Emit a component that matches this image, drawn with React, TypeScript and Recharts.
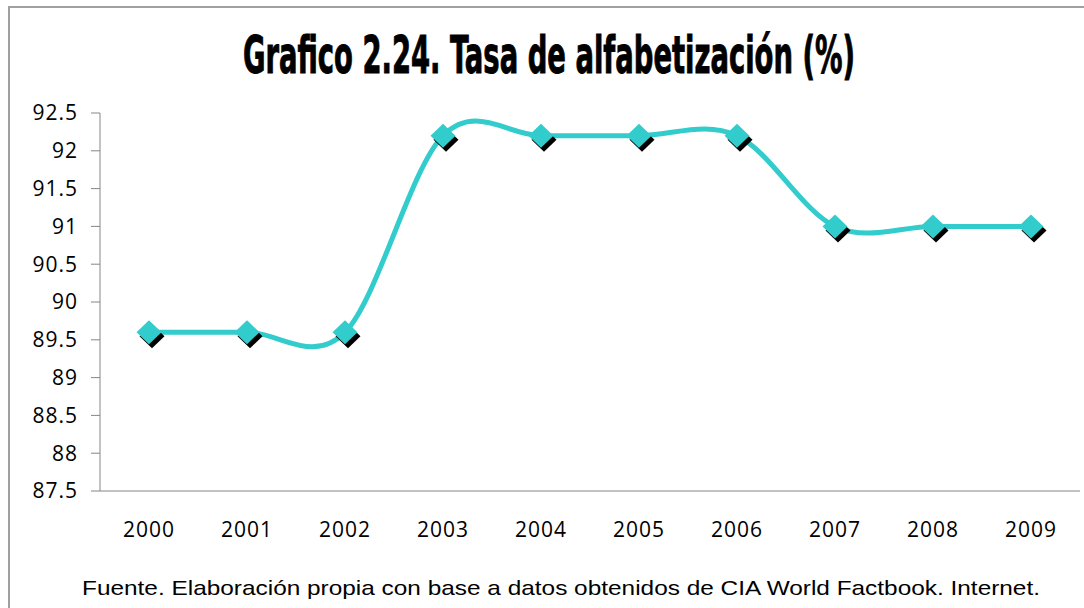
import React from "react";
import { LineChart, Line, XAxis, YAxis } from "recharts";

const years = ["2000", "2001", "2002", "2003", "2004", "2005", "2006", "2007", "2008", "2009"];
const literacy = [89.6, 89.6, 89.6, 92.2, 92.2, 92.2, 92.2, 91.0, 91.0, 91.0];
const yTicks = [87.5, 88, 88.5, 89, 89.5, 90, 90.5, 91, 91.5, 92, 92.5];
const title = "Grafico 2.24. Tasa de alfabetización (%)";
const footer = "Fuente. Elaboración propia con base a datos obtenidos de CIA World Factbook. Internet.";

const data = years.map((y, i) => ({ i, year: y, v: literacy[i] }));
const labelTicks = years.map((_, i) => i);
const boundaryTicks = [...years.map((_, i) => i - 0.5), years.length - 0.5];

const TEAL = "#33CCCC";
const AXIS = "#868686";

// Excel-like smoothed line (cardinal spline, tension 1/6 control points)
const excelCurve: any = (context: any) => {
  let pts: number[][] = [];
  return {
    areaStart() {},
    areaEnd() {},
    lineStart() {
      pts = [];
    },
    lineEnd() {
      const n = pts.length;
      if (!n) return;
      context.moveTo(pts[0][0], pts[0][1]);
      for (let k = 0; k < n - 1; k++) {
        const p0 = pts[Math.max(k - 1, 0)];
        const p1 = pts[k];
        const p2 = pts[k + 1];
        const p3 = pts[Math.min(k + 2, n - 1)];
        const c1x = p1[0] + (p2[0] - p0[0]) / 6;
        const c1y = p1[1] + (p2[1] - p0[1]) / 6;
        const c2x = p2[0] - (p3[0] - p1[0]) / 6;
        const c2y = p2[1] - (p3[1] - p1[1]) / 6;
        context.bezierCurveTo(c1x, c1y, c2x, c2y, p2[0], p2[1]);
      }
    },
    point(x: number, y: number) {
      pts.push([+x, +y]);
    },
  };
};

const DiamondDot = (props: any) => {
  const { cx, cy, index } = props;
  if (cx == null || cy == null) return <g key={index} />;
  const hw = 12.5;
  const hh = 12;
  const d = (x: number, y: number) =>
    `M${x},${y - hh} L${x + hw},${y} L${x},${y + hh} L${x - hw},${y} Z`;
  return (
    <g key={index}>
      <path d={d(cx + 3, cy + 4)} fill="#000" />
      <path d={d(cx, cy)} fill={TEAL} />
    </g>
  );
};

export default function App() {
  return (
    <div
      style={{
        position: "absolute",
        left: 0,
        top: 0,
        width: 1084,
        height: 608,
        overflow: "hidden",
        background: "#fff",
      }}
    >
      <div
        style={{
          position: "absolute",
          left: 8,
          top: 6,
          width: 1100,
          height: 640,
          border: "2px solid #a0a0a0",
          boxSizing: "border-box",
        }}
      />
      <div style={{ position: "absolute", left: 0, top: 0 }}>
        <LineChart
          width={1084}
          height={608}
          data={data}
          margin={{ top: 113, right: 4, bottom: 76, left: 8 }}
        >
          <YAxis
            type="number"
            domain={[87.5, 92.5]}
            ticks={yTicks}
            interval={0}
            width={92}
            tickSize={9}
            tickMargin={13}
            axisLine={{ stroke: AXIS, strokeWidth: 1 }}
            tickLine={{ stroke: AXIS, strokeWidth: 1 }}
            tick={{ fill: "#000", fontSize: 21, fontFamily: "Open Sans", letterSpacing: 1 }}
          />
          <XAxis
            xAxisId="a"
            type="number"
            dataKey="i"
            domain={[-0.5, years.length - 0.5]}
            ticks={boundaryTicks}
            interval={0}
            height={1}
            tickSize={7}
            tick={false}
            axisLine={{ stroke: AXIS, strokeWidth: 1 }}
            tickLine={{ stroke: AXIS, strokeWidth: 1 }}
          />
          <XAxis
            xAxisId="b"
            type="number"
            dataKey="i"
            domain={[-0.5, years.length - 0.5]}
            ticks={labelTicks}
            interval={0}
            height={40}
            tickSize={0}
            tickMargin={30}
            axisLine={false}
            tickLine={false}
            tickFormatter={(v: number) => years[v] ?? ""}
            tick={{ fill: "#000", fontSize: 21, fontFamily: "Open Sans", letterSpacing: 1 }}
          />
          <Line
            xAxisId="a"
            dataKey="v"
            stroke="none"
            dot={false}
            activeDot={false}
            legendType="none"
            isAnimationActive={false}
          />
          <Line
            xAxisId="b"
            dataKey="v"
            type={excelCurve}
            stroke={TEAL}
            strokeWidth={5}
            dot={DiamondDot}
            activeDot={false}
            isAnimationActive={false}
          />
        </LineChart>
      </div>
      <svg
        width={1084}
        height={608}
        style={{ position: "absolute", left: 0, top: 0, pointerEvents: "none" }}
      >
        <g transform="translate(549,73) scale(1,1.18)">
          <text
            x={0}
            y={0}
            textAnchor="middle"
            fontFamily="'Liberation Sans Narrow', 'DejaVu Sans Condensed', sans-serif"
            fontWeight="bold"
            fontSize={43}
            textLength={612}
            lengthAdjust="spacingAndGlyphs"
            fill="#000"
            stroke="#000"
            strokeWidth={0.8}
          >
            {title}
          </text>
        </g>
        <text
          x={561}
          y={595}
          textAnchor="middle"
          fontFamily="'Liberation Sans', Arial, sans-serif"
          fontSize={21}
          textLength={958}
          lengthAdjust="spacingAndGlyphs"
          fill="#000"
        >
          {footer}
        </text>
      </svg>
    </div>
  );
}
